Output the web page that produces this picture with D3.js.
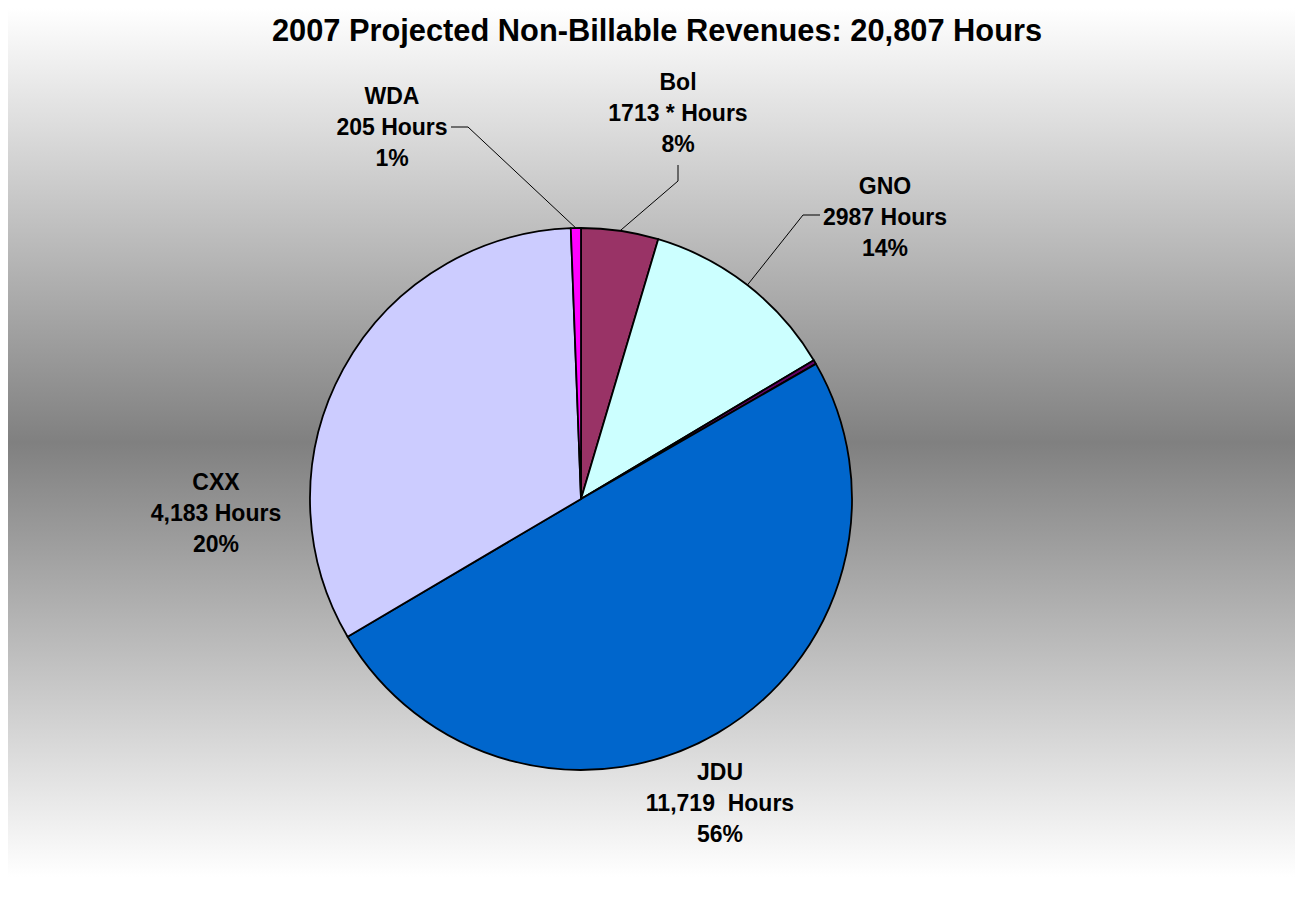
<!DOCTYPE html>
<html>
<head>
<meta charset="utf-8">
<script src="https://cdn.jsdelivr.net/npm/d3@7"></script>
<style>
  html, body { margin: 0; padding: 0; background: #ffffff; }
  svg { display: block; }
</style>
</head>
<body>
<svg id="chart" width="1295" height="899"></svg>
<script>
// ---- data ----
const title = "2007 Projected Non-Billable Revenues: 20,807 Hours";
const categories = ["Bol", "GNO", "Other", "JDU", "CXX", "WDA"];
// slice sizes as drawn (share of the circle, %)
const sliceValues = [4.6, 11.85, 0.25, 49.85, 32.9, 0.6];
const hourLabels = ["1713 * Hours", "2987 Hours", "", "11,719  Hours", "4,183 Hours", "205 Hours"];
const pctLabels = ["8%", "14%", "", "56%", "20%", "1%"];
const colors = ["#993366", "#CCFFFF", "#660066", "#0066CC", "#CCCCFF", "#FF00FF"];

// ---- layout (positions kept separate from data) ----
const W = 1295, H = 899;
const cx = 581, cy = 499, R = 271;
const labelLayout = {
  Bol: { x: 678, y: 90, leader: [[678, 165], [678, 181]] },
  GNO: { x: 885, y: 194, leader: [[820, 215], [803, 215]] },
  JDU: { x: 720, y: 780, leader: null },
  CXX: { x: 216, y: 490, leader: null },
  WDA: { x: 392, y: 104, leader: [[451, 127], [468, 127]] }
};
const lineGap = 31;

const svg = d3.select("#chart");

// background gradient
const defs = svg.append("defs");
const grad = defs.append("linearGradient")
  .attr("id", "bg").attr("x1", 0).attr("y1", 0).attr("x2", 0).attr("y2", 1);
grad.append("stop").attr("offset", "0%").attr("stop-color", "#ffffff");
grad.append("stop").attr("offset", "50%").attr("stop-color", "#808080");
grad.append("stop").attr("offset", "100%").attr("stop-color", "#ffffff");

svg.append("rect").attr("x", 8).attr("y", 8).attr("width", W - 8).attr("height", 869)
  .attr("fill", "url(#bg)");

// title
svg.append("text")
  .attr("x", 657).attr("y", 41)
  .attr("text-anchor", "middle")
  .attr("font-family", "Liberation Sans, Arial, sans-serif")
  .attr("font-weight", "bold")
  .attr("font-size", 30.8)
  .attr("fill", "#000")
  .text(title);

// pie
const pie = d3.pie().sort(null).value(d => d)(sliceValues);
const arc = d3.arc().innerRadius(0).outerRadius(R);

const g = svg.append("g").attr("transform", `translate(${cx},${cy})`);
g.selectAll("path.slice").data(pie).enter().append("path")
  .attr("class", "slice")
  .attr("d", arc)
  .attr("fill", (d, i) => colors[i])
  .attr("stroke", "#000")
  .attr("stroke-width", 1.8)
  .attr("stroke-linejoin", "round");

// leader lines
pie.forEach((d, i) => {
  const lay = labelLayout[categories[i]];
  if (!lay || !lay.leader) return;
  const mid = (d.startAngle + d.endAngle) / 2;
  const ex = cx + R * Math.sin(mid), ey = cy - R * Math.cos(mid);
  const pts = lay.leader.concat([[ex, ey]]);
  svg.append("path")
    .attr("d", d3.line()(pts))
    .attr("fill", "none")
    .attr("stroke", "#000")
    .attr("stroke-width", 1);
});

// labels
categories.forEach((c, i) => {
  const lay = labelLayout[c];
  if (!lay) return;
  const t = svg.append("text")
    .attr("text-anchor", "middle")
    .attr("font-family", "Liberation Sans, Arial, sans-serif")
    .attr("font-weight", "bold")
    .attr("font-size", 23)
    .attr("fill", "#000")
    .style("white-space", "pre");
  [c, hourLabels[i], pctLabels[i]].forEach((s, k) => {
    t.append("tspan").attr("x", lay.x).attr("y", lay.y + k * lineGap).text(s);
  });
});
</script>
</body>
</html>
